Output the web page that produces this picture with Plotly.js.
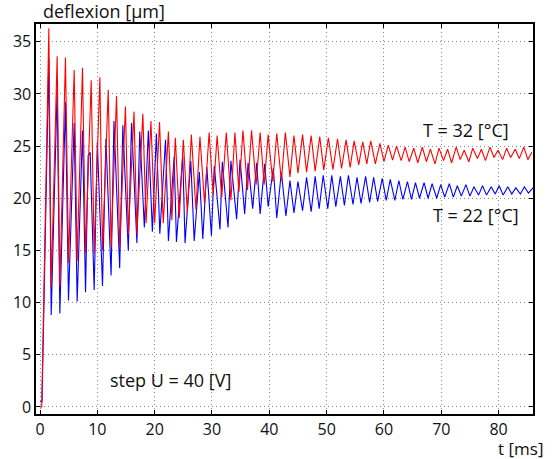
<!DOCTYPE html>
<html>
<head>
<meta charset="utf-8">
<script src="https://cdn.plot.ly/plotly-3.0.1.min.js"></script>
<style>html,body{margin:0;padding:0;background:#fff;}#chart{width:555px;height:459px;}</style>
</head>
<body>
<div id="chart"></div>
<script>
// Series: [t (ms), deflexion (µm)]
const red32 = [[0,0],[0.3,0],[1.54,36.3],[1.95,11.5],[2.99,33.6],[3.46,11.5],[4.44,33.5],[4.97,13.8],[5.96,32.3],[6.48,14.0],[7.41,32.5],[7.94,14.7],[8.93,31.3],[9.45,14.7],[10.44,31.6],[10.9,15.0],[11.9,30.4],[12.4,15.3],[13.35,29.8],[13.9,15.3],[14.9,28.8],[15.4,16.5],[16.4,28.3],[16.9,16.6],[17.94,28.1],[18.5,17.6],[19.35,27.4],[20.0,17.6],[20.85,27.3],[21.5,17.6],[22.4,26.4],[23.0,17.9],[23.6,25.8],[24.3,18.1],[25.0,25.6],[25.7,18.6],[26.4,26.1],[27.2,18.9],[27.9,25.9],[28.7,19.5],[29.5,26.3],[30.2,20.3],[30.9,26.0],[31.7,20.1],[32.5,26.3],[33.3,19.8],[34.0,26.3],[34.7,20.6],[35.4,26.5],[36.2,20.8],[36.9,26.5],[37.7,21.3],[38.4,26.3],[39.1,21.3],[39.8,26.1],[40.6,21.6],[41.3,26.2],[42.1,21.7],[42.8,26.3],[43.6,22.05],[44.3,26.0],[45.0,22.4],[45.8,26.1],[46.5,22.5],[47.3,26.0],[48.0,22.6],[48.8,25.9],[49.5,22.7],[50.3,25.8],[51.1,22.75],[51.9,25.7],[52.6,22.85],[53.4,25.6],[54.1,22.95],[54.8,25.5],[55.6,23.2],[56.3,25.4],[57.0,23.3],[57.7,25.5],[58.5,23.3],[59.3,25.25],[60.0,23.5],[60.75,25.1],[61.5,23.65],[62.2,25.0],[63.0,23.6],[63.7,24.9],[64.4,23.5],[65.2,24.8],[65.9,23.4],[66.7,24.9],[67.4,23.5],[68.1,24.7],[68.9,23.3],[69.6,24.8],[70.4,23.6],[71.1,24.7],[71.8,23.4],[72.6,24.9],[73.3,23.7],[74.0,24.6],[74.8,23.5],[75.5,24.8],[76.3,23.8],[77.0,24.7],[77.7,23.6],[78.5,24.9],[79.2,23.9],[79.9,24.6],[80.7,23.7],[81.4,24.8],[82.1,23.9],[82.9,24.7],[83.6,23.8],[84.4,24.9],[85.1,23.7],[85.8,24.4]];

const blue22 = [[0,0.5],[0.35,0.5],[1.54,33.4],[1.95,8.8],[2.99,30.5],[3.46,8.95],[4.44,29.2],[4.97,10.2],[5.96,27.2],[6.48,10.1],[7.41,26.5],[7.94,11.0],[8.4,24.1],[8.75,24.4],[9.45,11.2],[10.0,25.4],[10.9,11.6],[11.5,25.7],[12.4,12.6],[12.9,27.4],[13.9,13.3],[14.45,27.0],[15.4,15.0],[15.97,27.2],[16.9,15.7],[17.4,26.4],[18.2,17.2],[18.9,26.5],[19.6,16.8],[20.3,26.2],[20.9,16.6],[21.9,25.6],[22.4,15.9],[23.4,24.0],[23.8,15.8],[24.9,24.1],[25.3,15.7],[26.3,23.6],[26.9,15.9],[27.8,22.5],[28.4,16.1],[29.1,23.0],[29.9,16.4],[30.4,23.1],[31.4,17.0],[31.8,23.5],[32.8,17.2],[33.3,23.6],[34.3,18.0],[34.9,23.7],[35.7,18.5],[36.3,23.4],[37.1,19.0],[37.8,23.4],[38.4,18.5],[39.2,23.3],[39.8,19.2],[40.7,22.9],[41.3,18.1],[42.1,22.5],[42.9,18.3],[43.6,21.7],[44.3,18.6],[45.0,21.6],[45.8,18.8],[46.5,22.0],[47.3,18.7],[48.0,22.1],[48.7,19.0],[49.4,22.2],[50.2,19.0],[50.9,22.2],[51.6,19.2],[52.4,22.1],[53.1,19.3],[53.8,22.2],[54.6,19.4],[55.3,22.0],[56.0,19.5],[56.8,22.1],[57.5,19.6],[58.2,22.0],[58.9,19.7],[59.7,21.9],[60.4,19.8],[61.1,21.8],[61.9,19.8],[62.6,21.7],[63.3,19.9],[64.1,21.6],[64.8,19.9],[65.5,21.5],[66.2,20.0],[67.0,21.5],[67.7,20.0],[68.4,21.4],[69.2,20.0],[69.9,21.3],[70.6,20.1],[71.4,21.4],[72.1,20.1],[72.8,21.2],[73.5,20.2],[74.3,21.3],[75.0,20.2],[75.7,21.1],[76.5,20.3],[77.2,21.2],[77.9,20.3],[78.7,21.1],[79.4,20.4],[80.1,21.2],[80.8,20.3],[81.6,21.1],[82.3,20.4],[83.0,21.0],[83.8,20.4],[84.5,21.1],[85.2,20.5],[86.0,21.0]];

const xTicks = [0, 10, 20, 30, 40, 50, 60, 70, 80];
const yTicks = [0, 5, 10, 15, 20, 25, 30, 35];
const labels = {
  y: "deflexion [µm]",
  x: "t [ms]",
  red: "T = 32 [°C]",
  blue: "T = 22 [°C]",
  step: "step U = 40 [V]"
};

const FONT = "Open Sans, DejaVu Sans, sans-serif";

const traces = [
  {x: blue22.map(p => p[0]), y: blue22.map(p => p[1]), type: "scatter", mode: "lines",
   line: {color: "#0000ff", width: 1.1}, hoverinfo: "skip", showlegend: false},
  {x: red32.map(p => p[0]), y: red32.map(p => p[1]), type: "scatter", mode: "lines",
   line: {color: "#ff0000", width: 1.1}, hoverinfo: "skip", showlegend: false}
];

const axisCommon = {
  showline: true, linecolor: "#000", linewidth: 1.6, mirror: "ticks",
  ticks: "inside", ticklen: 4, tickcolor: "#000", tickwidth: 1,
  showgrid: true, gridcolor: "#8a8a8a", griddash: "1px,3px", gridwidth: 1,
  zeroline: false, tickfont: {family: FONT, size: 16, color: "#111"}
};

const layout = {
  width: 555, height: 459,
  margin: {l: 36, r: 22, t: 24, b: 45, pad: 0},
  paper_bgcolor: "#fff", plot_bgcolor: "#fff",
  showlegend: false,
  title: {text: labels.y, x: 43/555, xanchor: "left", xref: "container",
          y: 1 - 12/459, yanchor: "middle", yref: "container",
          font: {family: FONT, size: 18, color: "#111"}},
  xaxis: Object.assign({}, axisCommon, {range: [-0.7, 86.0], tickvals: xTicks, ticktext: xTicks.map(String)}),
  yaxis: Object.assign({}, axisCommon, {range: [-0.68, 36.7], tickvals: yTicks, ticktext: yTicks.map(String)}),
  annotations: [
    {text: labels.x, xref: "paper", yref: "paper", x: (545 - 36)/497, xanchor: "right",
     y: -(449 - 414)/390, yanchor: "middle", showarrow: false,
     font: {family: FONT, size: 17, color: "#111"}},
    {text: labels.red, xref: "x", yref: "y", x: 74.3, y: 26.5, xanchor: "center", yanchor: "middle",
     showarrow: false, font: {family: FONT, size: 18, color: "#111"}},
    {text: labels.blue, xref: "x", yref: "y", x: 76.1, y: 18.4, xanchor: "center", yanchor: "middle",
     showarrow: false, font: {family: FONT, size: 18, color: "#111"}},
    {text: labels.step, xref: "x", yref: "y", x: 11.8, y: 2.56, xanchor: "left", yanchor: "middle",
     showarrow: false, font: {family: FONT, size: 18, color: "#111"}}
  ]
};

Plotly.newPlot("chart", traces, layout, {staticPlot: true, displayModeBar: false});
</script>
</body>
</html>
